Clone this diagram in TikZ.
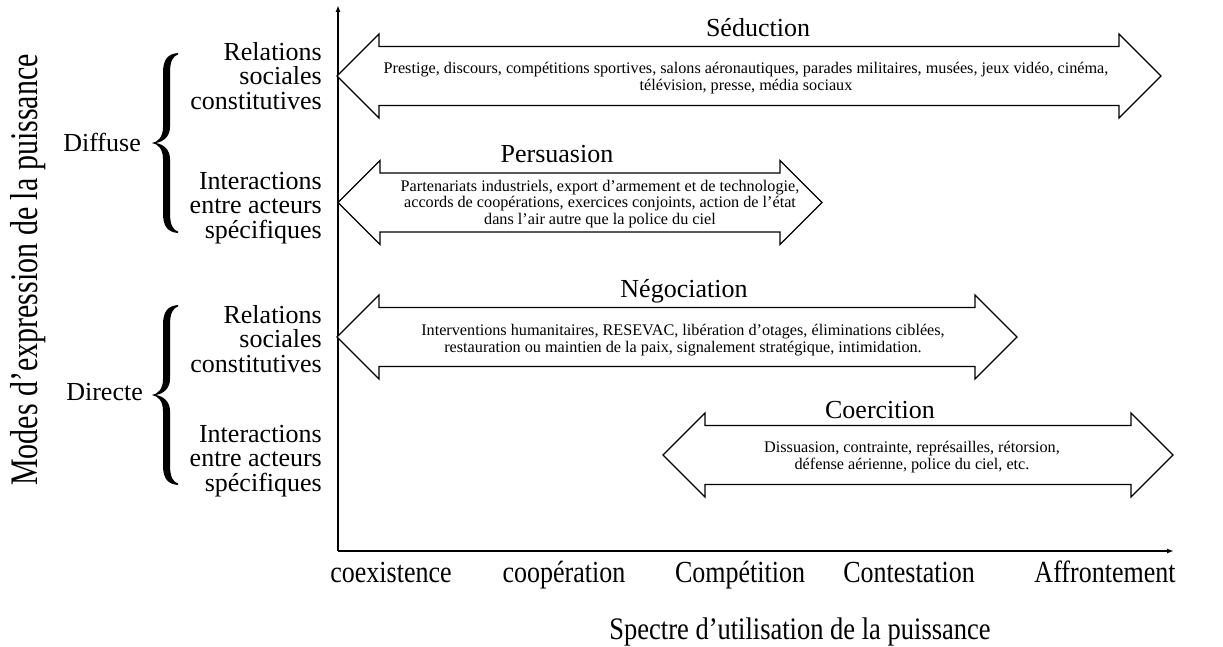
\documentclass[tikz,border=0pt]{standalone}
\usepackage{fontspec}
\setmainfont{Liberation Serif}
\usepackage{graphicx}
\usetikzlibrary{arrows.meta}

\newcommand\pfs[2]{\fontsize{#1}{#2}\selectfont}
\newcommand\dblarrow[3]{%
  \draw[bigarrow] (#1,#3) -- ++(42,-42) -- ++(0,12.5) -- ({#2-42},{#3-29.5}) -- ++(0,-12.5)
    -- (#2,#3) -- ++(-42,42) -- ++(0,-12.5) -- ({#1+42},{#3+29.5}) -- ++(0,12.5) -- cycle;}

\begin{document}
\begin{tikzpicture}[x=1pt,y=-1pt,
  bigarrow/.style={draw=black, line width=1.1pt, fill=white, line join=miter},
  axis/.style={line width=1.4pt, -{Latex[length=7pt,width=5pt]}},
  lab/.style={font=\pfs{26}{27}, anchor=base, inner sep=0pt},
  body/.style={font=\pfs{16.2}{16.8}, align=center, anchor=center, inner sep=0pt},
  side/.style={font=\pfs{26}{24.5}, align=right, anchor=north east, inner sep=0pt},
  grp/.style={font=\pfs{26}{27}, anchor=base east, inner sep=0pt},
  tick/.style={anchor=base, inner sep=0pt},
  cbrace/.pic={
    \fill (26,-90) .. controls (16,-89) and (11,-84) .. (11,-70) -- (11,-16)
      .. controls (11,-6) and (6,-1) .. (0,0) .. controls (6,1) and (11,6) .. (11,16)
      -- (11,70) .. controls (11,84) and (16,89) .. (26,90) -- (26,88.5)
      .. controls (21,87) and (18,82) .. (18,70) -- (18,16)
      .. controls (18,7) and (12,1.5) .. (4,0) .. controls (12,-1.5) and (18,-7) .. (18,-16)
      -- (18,-70) .. controls (18,-82) and (21,-87) .. (26,-88.5) -- cycle;
  }
  ]
\useasboundingbox (0,0) rectangle (1223,647);

% axes
\coordinate (O) at (338,551);
\coordinate (Ytop) at (338,5);
\coordinate (Xend) at (1174,551);
\draw[axis] (O) -- (Ytop);
\draw[axis] (O) -- (Xend);

% big double arrows
\dblarrow{337}{1161}{76}
\dblarrow{338}{822}{202.5}
\dblarrow{337}{1017}{337}
\dblarrow{663}{1173}{455}

% arrow titles
\node[lab] (sed) at (758,37) {Séduction};
\node[lab] (per) at (557,163) {Persuasion};
\node[lab] (neg) at (684,297) {Négociation};
\node[lab] (coe) at (880,418) {Coercition};

% arrow contents
\node[body] (sedt) at (746,78) {Prestige, discours, compétitions sportives, salons aéronautiques, parades militaires, musées, jeux vidéo, cinéma,\\ télévision, presse, média sociaux};
\node[body] (pert) at (600,204) {Partenariats industriels, export d’armement et de technologie,\\ accords de coopérations, exercices conjoints, action de l’état\\ dans l’air autre que la police du ciel};
\node[body] (negt) at (683,340) {Interventions humanitaires, RESEVAC, libération d’otages, éliminations ciblées,\\ restauration ou maintien de la paix, signalement stratégique, intimidation.};
\node[body] (coet) at (912,457) {Dissuasion, contrainte, représailles, rétorsion,\\ défense aérienne, police du ciel, etc.};

% left labels
\node[side] (r1) at (322,42) {Relations\\ sociales\\ constitutives};
\node[side] (i1) at (322,172) {Interactions\\ entre acteurs\\ spécifiques};
\node[side] (r2) at (322,305) {Relations\\ sociales\\ constitutives};
\node[side] (i2) at (322,425) {Interactions\\ entre acteurs\\ spécifiques};

\node[grp] (dif) at (141,152) {Diffuse};
\node[grp] (dir) at (143,400) {Directe};
\pic at (152,143) {cbrace};
\pic at (152,395) {cbrace};

% axis titles
\node[rotate=90, anchor=base, inner sep=0pt] (ylab) at (37,270)
  {\scalebox{1}[1.3]{\pfs{30}{32}Modes d’expression de la puissance}};
\node[tick] (t1) at (391,582) {\scalebox{1}[1.18]{\pfs{26}{27}coexistence}};
\node[tick] (t2) at (564,582) {\scalebox{1}[1.18]{\pfs{26}{27}coopération}};
\node[tick] (t3) at (740,582) {\scalebox{1}[1.18]{\pfs{26}{27}Compétition}};
\node[tick] (t4) at (909,582) {\scalebox{1}[1.18]{\pfs{26}{27}Contestation}};
\node[tick] (t5) at (1105,582) {\scalebox{1}[1.18]{\pfs{26}{27}Affrontement}};
\node[tick] (xlab) at (800,639) {\scalebox{1}[1.18]{\pfs{26.5}{27}Spectre d’utilisation de la puissance}};
\end{tikzpicture}
\end{document}
